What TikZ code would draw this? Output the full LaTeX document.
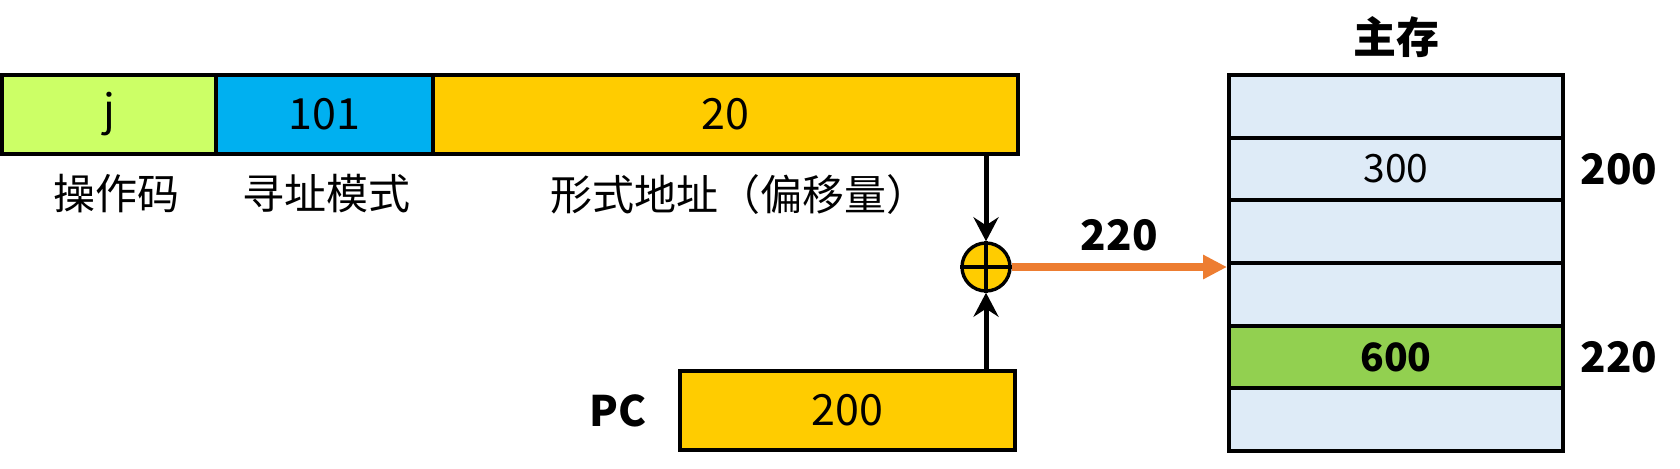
\documentclass[tikz,border=0pt]{standalone}
\usepackage{fontspec}
\setmainfont{Noto Sans CJK SC}
\usetikzlibrary{positioning,arrows.meta}

\definecolor{opgreen}{HTML}{CCFF66}
\definecolor{modeblue}{HTML}{00B0F0}
\definecolor{addryellow}{HTML}{FFCC00}
\definecolor{memblue}{HTML}{DEEBF7}
\definecolor{hitgreen}{HTML}{92D050}
\definecolor{sumorange}{HTML}{ED7D31}

\tikzset{
  cell/.style={draw,line width=2pt,outer sep=0pt,minimum height=39.5pt,inner sep=0pt,
    font=\fontsize{21.5}{26}\selectfont},
  memcell/.style={draw,line width=2pt,fill=memblue,minimum width=167pt,
    minimum height=31.33pt,inner sep=0pt,font=\fontsize{19.5}{24}\selectfont},
  lbl/.style={inner sep=0pt,font=\fontsize{21}{25}\selectfont},
  blbl/.style={inner sep=0pt,font=\fontsize{21}{25}\selectfont\bfseries},
  arr/.style={line width=2.5pt,-{Stealth[length=12pt,width=12.5pt,inset=4pt]}},
}

\begin{document}
\begin{tikzpicture}[x=0.5pt,y=-0.5pt]
  \useasboundingbox (0,0) rectangle (1680,468);

  % instruction
  \node [cell,fill=opgreen,minimum width=107pt] (op) at (109,114.5) {j};
  \node [cell,fill=modeblue,minimum width=108.5pt,right=0pt of op] (mode) {101};
  \node [cell,fill=addryellow,minimum width=292.5pt,right=0pt of mode] (addr) {20};

  \node [lbl,below=10pt of op,xshift=3.5pt] (oplbl) {操作码};
  \node [lbl,below=10pt of mode,xshift=1pt] (modelbl) {寻址模式};
  \node [lbl,below=10pt of addr,xshift=7pt] (addrlbl) {形式地址（偏移量）};

  % adder
  \node [draw,circle,line width=1.7pt,fill=addryellow,minimum size=24pt,inner sep=0pt] (add) at (986,267) {};
  \draw [line width=1.7pt] (add.north) -- (add.south);
  \draw [line width=1.7pt] (add.west) -- (add.east);

  % PC
  \node [cell,fill=addryellow,minimum width=167.5pt] (pc) at (847.5,410.5) {200};
  \node [blbl,left=16.5pt of pc] (pclbl) {PC};

  \draw [arr] (addr.south -| add) -- (add.north);
  \draw [arr] (pc.north -| add) -- (add.south);

  % main memory
  \foreach \i/\val/\col in {1//memblue,2/300/memblue,3//memblue,4//memblue,5/\bfseries 600/hitgreen,6//memblue}
    \node [memcell,fill=\col] (m\i) at (1396,{75+31.33+62.67*(\i-1)}) {\val};
  \node [blbl,above=7.5pt of m1,font=\fontsize{21.5}{25}\selectfont\bfseries] (memlbl) {主存};
  \node [blbl,right=7.5pt of m2] (a200) {200};
  \node [blbl,right=7.5pt of m5] (a220) {220};

  \draw [line width=4pt,sumorange,-{Triangle[length=12pt,width=11.5pt]}] (add.east) -- node [blbl,black,above=6pt] {220} (add.east -| m3.south west);
\end{tikzpicture}
\end{document}
